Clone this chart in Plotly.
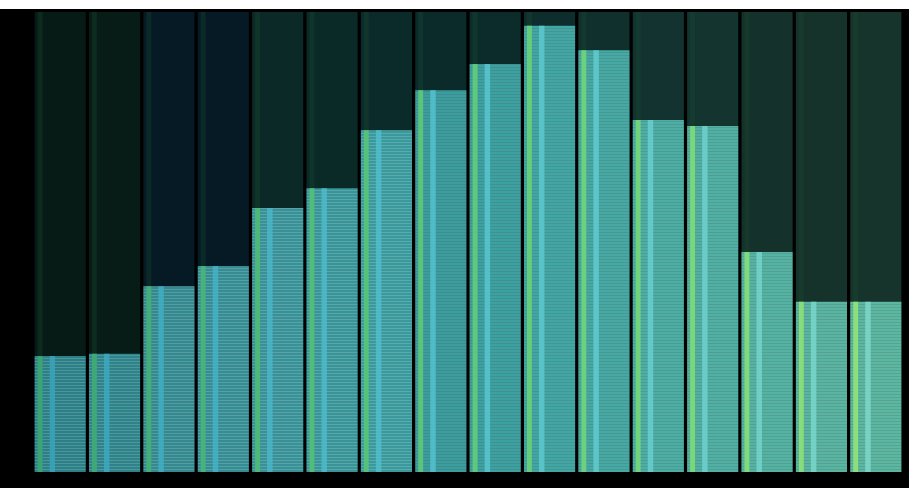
import plotly.graph_objects as go

categories = [f"C{i}" for i in range(1, 17)]
values = [25.2, 25.7, 40.4, 44.8, 57.4, 61.7, 74.3, 83.0, 88.7, 97.0, 91.7, 76.5, 75.2, 47.8, 37.0, 37.0]
full_scale = [100] * 16

bar_colors = ["#2b7f86", "#2d8389", "#33898f", "#358c93", "#379196", "#389498", "#3a999c",
              "#3c9d9f", "#3ea1a1", "#42a6a4", "#47a9a4", "#4caea4", "#50b0a3", "#55b3a3",
              "#59b5a2", "#5bb7a2"]
bg_colors = ["#061a16", "#071b17", "#051a25", "#051a25", "#0a2927", "#0a2a28", "#0b2b2b",
             "#0b2b2b", "#0c2c2c", "#0d2e2d", "#10302d", "#12332f", "#13342f", "#15312b",
             "#15322b", "#16332c"]
green_colors = ["#3aa474", "#3ea876", "#43ae78", "#47b279", "#4cb87a", "#50bd7a", "#55c17a",
                "#5ac57a", "#5fc97a", "#65cd7a", "#6bd17a", "#72d47a", "#79d77a", "#80da7a",
                "#86dd7a", "#8ce07a"]
cyan_colors = ["#3aa4bc", "#3da9c0", "#41aec4", "#45b2c7", "#49b6c9", "#4cbacb", "#50becd",
               "#54c2cf", "#58c6d0", "#5ccad0", "#62ccd0", "#68cfd0", "#6ed2cf", "#74d4ce",
               "#79d6cd", "#7ed8cc"]

fig = go.Figure()

# full-height background columns
fig.add_trace(go.Bar(
    x=categories, y=full_scale, width=0.94, offset=-0.47,
    marker=dict(color=bg_colors, line=dict(width=0)),
    hoverinfo="skip", showlegend=False))
fig.add_trace(go.Bar(
    x=categories, y=full_scale, width=0.09, offset=-0.415,
    marker=dict(color="#1a4a30", line=dict(width=0)),
    hoverinfo="skip", showlegend=False, opacity=0.35))

# value bars
fig.add_trace(go.Bar(
    x=categories, y=values, width=0.94, offset=-0.47,
    marker=dict(color=bar_colors, line=dict(width=0),
                pattern=dict(shape="-", fillmode="overlay", fgcolor="#103038",
                             fgopacity=0.18, size=3, solidity=0.3)),
    showlegend=False))
fig.add_trace(go.Bar(
    x=categories, y=values, width=0.09, offset=-0.415,
    marker=dict(color=green_colors, line=dict(width=0)),
    hoverinfo="skip", showlegend=False))
fig.add_trace(go.Bar(
    x=categories, y=values, width=0.1, offset=-0.194,
    marker=dict(color=cyan_colors, line=dict(width=0)),
    hoverinfo="skip", showlegend=False, opacity=0.85))

fig.update_layout(
    width=909, height=479,
    barmode="overlay",
    paper_bgcolor="#000000", plot_bgcolor="#000000",
    margin=dict(l=33, r=6, t=3, b=16),
    xaxis=dict(visible=False, range=[-0.5, 15.5]),
    yaxis=dict(visible=False, range=[0, 100]),
)

fig.write_html("out.html", post_script="document.body.style.margin='9px 0 0 0';")
